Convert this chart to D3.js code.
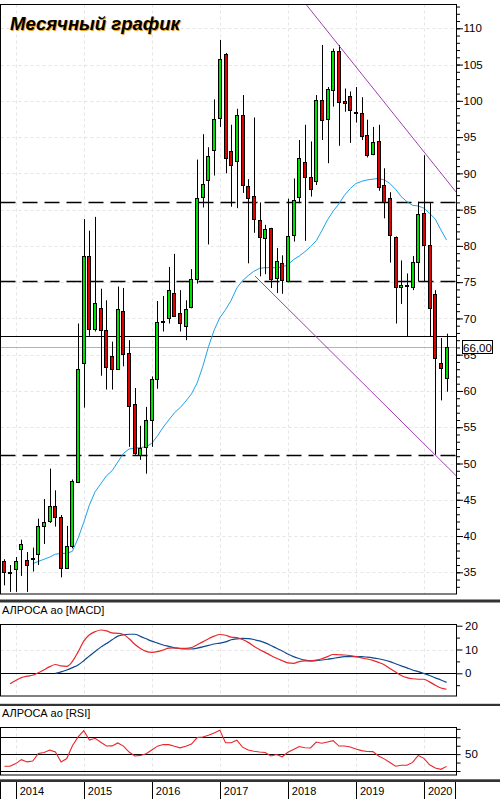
<!DOCTYPE html>
<html>
<head>
<meta charset="utf-8">
<script src="https://cdn.jsdelivr.net/npm/d3@7"></script>
<style>
  html, body { margin: 0; padding: 0; background: #fff; }
  svg { display: block; font-family: "Liberation Sans", Arial, sans-serif; }
</style>
</head>
<body>
<div class="chart"></div>
<script>
var svgWidth = 500;
var svgHeight = 799;

// monthly bars, Nov 2013 .. May 2020
var months = d3.timeMonth.range(new Date(2013, 10, 1), new Date(2020, 5, 1));
var yearLabels = ["2014", "2015", "2016", "2017", "2018", "2019", "2020"];

var openPrices = [36.5, 35.0, 35.4, 38.2, 36.7, 36.8, 37.6, 41.4, 42.0, 44.1,
  42.6, 35.6, 38.6, 47.4, 63.9, 78.6, 68.5, 71.5, 68.4, 64.8,
  63.0, 71.0, 65.3, 58.2, 51.2, 52.3, 56.1, 61.7, 69.5, 70.0,
  73.5, 70.7, 69.0, 71.5, 75.5, 86.8, 89.1, 93.2, 97.5, 106.5,
  93.1, 91.8, 98.1, 88.3, 86.9, 83.6, 81.1, 82.4, 75.5, 77.6,
  75.2, 81.5, 86.7, 91.5, 89.5, 88.9, 100.1, 97.4, 101.5, 106.9,
  100.0, 100.6, 98.5, 98.3, 95.3, 92.7, 94.5, 88.4, 86.6, 81.2,
  74.3, 74.6, 74.4, 77.8, 84.6, 80.1, 73.4, 63.9, 61.7];
var highPrices = [36.8, 36.0, 37.1, 39.5, 37.8, 38.4, 42.4, 45.1, 49.3, 46.3,
  42.9, 41.4, 47.8, 69.3, 83.7, 82.1, 84.0, 74.1, 72.5, 66.8,
  74.4, 74.2, 67.0, 60.4, 55.2, 57.8, 62.0, 72.4, 73.1, 77.1,
  78.9, 73.9, 72.5, 76.8, 91.9, 95.4, 93.6, 100.2, 108.4, 106.6,
  96.7, 98.9, 100.8, 89.2, 97.7, 86.0, 82.9, 82.5, 79.7, 78.7,
  86.5, 89.3, 94.6, 96.7, 94.4, 100.8, 107.7, 101.9, 107.2, 107.7,
  101.7, 101.3, 101.9, 100.5, 97.4, 96.4, 96.7, 90.7, 87.4, 81.3,
  78.0, 76.2, 78.6, 86.1, 92.5, 85.9, 73.9, 67.3, 67.9];
var lowPrices = [33.2, 32.3, 32.3, 34.5, 32.3, 35.1, 36.0, 38.9, 41.8, 41.3,
  34.3, 35.5, 38.3, 47.3, 57.7, 67.6, 68.2, 62.1, 60.2, 60.2,
  62.9, 63.4, 52.3, 51.2, 50.5, 48.6, 52.3, 60.3, 68.2, 69.3,
  70.2, 68.2, 67.0, 71.4, 74.8, 85.3, 80.2, 89.7, 96.4, 90.0,
  85.4, 85.2, 87.3, 77.6, 81.8, 75.8, 76.1, 74.2, 73.5, 73.4,
  75.0, 80.6, 85.9, 80.7, 86.8, 88.4, 94.6, 91.4, 99.2, 93.8,
  98.5, 94.2, 97.0, 94.6, 92.2, 92.5, 87.6, 83.8, 77.7, 69.3,
  72.0, 67.5, 73.9, 75.1, 75.1, 67.5, 51.2, 58.7, 59.9];
var closePrices = [35.0, 35.1, 36.5, 38.9, 36.0, 37.0, 41.4, 41.9, 44.1, 42.6,
  35.6, 38.6, 47.6, 63.0, 78.6, 68.5, 72.1, 68.4, 63.3, 63.0,
  71.3, 65.1, 58.0, 51.4, 52.2, 56.0, 61.7, 69.5, 69.7, 73.9,
  70.3, 69.3, 71.3, 75.4, 86.6, 88.6, 92.4, 97.5, 105.7, 92.1,
  91.2, 98.1, 88.4, 86.6, 83.7, 81.2, 82.3, 75.3, 77.9, 75.2,
  81.4, 86.3, 92.1, 89.5, 87.8, 100.1, 97.4, 101.6, 106.9, 99.9,
  99.7, 98.7, 98.3, 95.1, 92.5, 94.3, 88.2, 86.0, 81.5, 74.3,
  74.6, 74.5, 77.8, 84.4, 80.2, 71.4, 64.6, 63.2, 66.0];

// moving average (blue)
var maValues = [null, null, null, null, null, 36.2, 36.5, 36.8, 37.1, 37.5,
  37.6, 37.6, 37.9, 39.7, 41.9, 44.3, 46.1, 47.2, 48.3, 49.0,
  50.2, 51.4, 52.0, 52.1, 52.2, 52.3, 52.8, 53.8, 55.0, 56.0,
  57.0, 57.7, 58.6, 59.6, 61.1, 63.4, 66.1, 68.4, 70.1, 71.2,
  72.5, 74.2, 75.2, 75.9, 76.5, 76.9, 77.0, 77.0, 77.0, 77.1,
  77.4, 78.1, 78.6, 79.2, 79.9, 80.7, 82.1, 83.6, 84.8, 85.8,
  87.0, 87.9, 88.6, 88.9, 89.1, 89.2, 89.3, 89.1, 88.6, 87.8,
  86.8, 86.1, 85.6, 85.5, 85.2, 84.5, 83.7, 82.2, 80.8];

var macdValues = [null, -4.4, -3.0, -1.8, -1.2, -0.8, 0.2, 1.5, 2.8, 3.7,
  3.1, 2.9, 5.0, 9.0, 13.5, 16.2, 17.5, 18.2, 17.8, 17.0,
  16.8, 16.3, 14.5, 12.2, 10.4, 9.2, 8.8, 9.1, 9.8, 10.6,
  10.7, 10.5, 10.5, 10.8, 12.0, 13.2, 14.5, 15.6, 16.3, 16.0,
  15.2, 15.0, 14.2, 13.0, 11.4, 10.0, 8.8, 7.5, 6.3, 5.3,
  4.4, 4.2, 4.9, 5.2, 5.2, 5.5, 6.1, 7.0, 7.9, 7.8,
  7.7, 7.4, 7.0, 6.5, 6.0, 5.4, 4.6, 3.6, 2.0, 0.5,
  -0.9, -1.8, -2.3, -2.5, -2.5, -3.6, -5.0, -6.2, -6.7];
var signalValues = [null, null, null, null, null, null, null, null, null, 0.0,
  0.6, 1.4, 2.4, 3.5, 5.3, 7.3, 9.2, 11.0, 12.5, 14.1,
  15.6, 16.2, 16.4, 16.4, 15.5, 14.5, 13.5, 12.7, 11.9, 11.3,
  10.7, 10.4, 10.2, 10.2, 10.6, 11.1, 11.7, 12.3, 12.7, 13.2,
  14.1, 14.5, 14.7, 14.6, 14.2, 13.6, 12.8, 11.7, 10.5, 9.4,
  8.1, 7.0, 6.2, 5.5, 5.2, 5.3, 5.6, 5.9, 6.3, 6.7,
  7.0, 7.0, 7.0, 7.0, 6.8, 6.5, 6.1, 5.6, 4.9, 4.0,
  3.1, 2.3, 1.4, 0.7, -0.1, -0.9, -1.9, -2.8, -3.8];

var rsiValues = [35.6, 35.6, 38.8, 43.5, 40.8, 41.8, 50.8, 52.0, 54.8, 52.6,
  40.8, 44.8, 60.0, 70.5, 77.9, 66.8, 68.8, 64.2, 59.6, 59.8,
  63.3, 59.5, 52.5, 47.8, 48.5, 50.5, 55.0, 59.5, 61.4, 61.3,
  59.3, 57.5, 59.3, 62.0, 69.6, 70.4, 72.5, 75.2, 78.5, 63.5,
  63.5, 66.5, 58.3, 55.0, 53.5, 52.6, 52.0, 47.9, 49.6, 46.9,
  52.3, 55.6, 59.0, 57.6, 57.3, 64.4, 62.9, 64.5, 66.0, 59.6,
  59.6, 58.5, 56.0, 54.2, 53.1, 53.0, 47.8, 44.4, 40.0, 35.6,
  36.8, 36.8, 40.2, 48.4, 45.0, 37.4, 33.6, 32.0, 35.5];

// drawn levels and trend lines: [month index, price]
var dashedLevels = [86.0, 75.15, 51.2];
var solidLevel = 67.55;
var lastPrice = 66.00;
var upperTrend = [[53.3, 113.2], [79.7, 87.4]];
var lowerTrend = [[44.2, 75.85], [79.7, 48.3]];

var priceTicks = [35, 40, 45, 50, 55, 60, 65, 70, 75, 80, 85, 90, 95, 100, 105, 110];
var macdTicks = [0, 10, 20];
var macdMinorTicks = [-5, 5, 15];
var rsiLevels = [30, 50, 70];
var rsiTicks = [30, 40, 50, 60, 70, 80];
var rsiTickLabels = [50];

// layout
var plotLeft = 0.5;
var plotRight = 456.5;
var mainTop = 4.5, mainBottom = 594;
var macdTop = 624.5, macdBottom = 696;
var rsiTop = 727.5, rsiBottom = 775;

var svg = d3.select(".chart")
  .append("svg")
  .attr("width", svgWidth)
  .attr("height", svgHeight);

var xLinearScale = d3.scaleLinear()
  .domain([0, months.length - 1])
  .range([4.4, 446.6]);
var yPrice = d3.scaleLinear().domain([35, 110]).range([572.3, 28.3]);
var yMacd = d3.scaleLinear().domain([0, 20]).range([673.3, 625.7]);
var yRsi = d3.scaleLinear().domain([30, 70]).range([771, 737.3]);

var yearIdx = [];
months.forEach(function (m, i) { if (m.getMonth() === 0) yearIdx.push(i); });

function px(v) { return Math.round(v) + 0.5; }

// panel with clip and vertical year grid
function makePanel(name, top, bottom) {
  svg.append("clipPath").attr("id", "clip-" + name)
    .append("rect")
    .attr("x", plotLeft).attr("y", top)
    .attr("width", plotRight - plotLeft).attr("height", bottom - top);
  var g = svg.append("g");
  g.selectAll(".vgrid").data(yearIdx).enter().append("line")
    .attr("x1", d => px(xLinearScale(d))).attr("x2", d => px(xLinearScale(d)))
    .attr("y1", top).attr("y2", bottom)
    .attr("stroke", "#e4e4e4").attr("stroke-dasharray", "3,3");
  return g;
}

function frame(top, bottom) {
  svg.append("rect")
    .attr("x", plotLeft).attr("y", top)
    .attr("width", plotRight - plotLeft).attr("height", bottom - top)
    .attr("fill", "none").attr("stroke", "#000");
}

function separator(y, h) {
  svg.append("rect").attr("x", 0).attr("y", y).attr("width", svgWidth).attr("height", h)
    .attr("fill", "#333");
}

// ---------- main price panel ----------
var main = makePanel("main", mainTop, mainBottom);

main.selectAll(".hgrid").data(priceTicks).enter().append("line")
  .attr("x1", plotLeft).attr("x2", plotRight)
  .attr("y1", d => px(yPrice(d))).attr("y2", d => px(yPrice(d)))
  .attr("stroke", "#e4e4e4").attr("stroke-dasharray", "3,3");

var mainClip = main.append("g").attr("clip-path", "url(#clip-main)");

// current price (grey) and black solid level
mainClip.append("line")
  .attr("x1", plotLeft).attr("x2", plotRight)
  .attr("y1", px(yPrice(lastPrice))).attr("y2", px(yPrice(lastPrice)))
  .attr("stroke", "#b4b4b4");
mainClip.append("line")
  .attr("x1", plotLeft).attr("x2", plotRight)
  .attr("y1", px(yPrice(solidLevel))).attr("y2", px(yPrice(solidLevel)))
  .attr("stroke", "#000");

// dashed support/resistance levels
mainClip.selectAll(".level").data(dashedLevels).enter().append("line")
  .attr("x1", plotLeft).attr("x2", plotRight)
  .attr("y1", d => px(yPrice(d))).attr("y2", d => px(yPrice(d)))
  .attr("stroke", "#000").attr("stroke-width", 1.3)
  .attr("stroke-dasharray", "15,7");

// moving average
var maLine = d3.line()
  .defined(d => d != null)
  .x((d, i) => xLinearScale(i))
  .y(d => yPrice(d));
mainClip.append("path")
  .datum(maValues)
  .attr("d", maLine)
  .attr("fill", "none").attr("stroke", "#1ea2e8").attr("stroke-width", 1);

// candles
var candles = months.map(function (m, i) {
  return { i: i, o: openPrices[i], h: highPrices[i], l: lowPrices[i], c: closePrices[i] };
});

mainClip.selectAll(".wick").data(candles).enter().append("line")
  .attr("x1", d => Math.round(xLinearScale(d.i)) + 0.5)
  .attr("x2", d => Math.round(xLinearScale(d.i)) + 0.5)
  .attr("y1", d => yPrice(d.h)).attr("y2", d => yPrice(d.l))
  .attr("stroke", "#000").attr("stroke-width", 1);

mainClip.selectAll(".body").data(candles).enter().append("rect")
  .attr("x", d => Math.round(xLinearScale(d.i)) - 1.5)
  .attr("width", 3)
  .attr("y", d => Math.round(yPrice(Math.max(d.o, d.c))) + 0.5)
  .attr("height", d => Math.max(1, Math.round(Math.abs(yPrice(d.o) - yPrice(d.c)))))
  .attr("fill", d => d.c >= d.o ? "#00e000" : "#e00000")
  .attr("stroke", "#000").attr("stroke-width", 1);

// trend lines
var trendLine = d3.line().x(d => xLinearScale(d[0])).y(d => yPrice(d[1]));
[upperTrend, lowerTrend].forEach(function (t) {
  mainClip.append("path")
    .datum(t)
    .attr("d", trendLine)
    .attr("fill", "none").attr("stroke", "#a040b0").attr("stroke-width", 1);
});

frame(mainTop, mainBottom);

// price axis
var priceAxis = svg.append("g")
  .attr("transform", `translate(${plotRight}, 0)`)
  .call(d3.axisRight(yPrice).tickValues(priceTicks).tickSize(6.5).tickPadding(0.5));
svg.append("g")
  .attr("transform", `translate(${plotRight}, 0)`)
  .call(d3.axisRight(yPrice).tickValues(d3.range(33, 114)).tickSize(3.5).tickFormat(""))
  .select(".domain").remove();
priceAxis.select(".domain").remove();
priceAxis.selectAll("text")
  .attr("font-family", "Liberation Sans, Arial, sans-serif")
  .attr("font-size", "11.5px").attr("fill", "#000");
svg.append("line")
  .attr("x1", plotRight).attr("x2", plotRight)
  .attr("y1", mainTop).attr("y2", mainBottom)
  .attr("stroke", "#000");

// last price box (covers most of the "65" label, as in the source)
var lastY = yPrice(lastPrice);
svg.append("rect")
  .attr("x", 462.5).attr("y", Math.round(lastY) - 6.5)
  .attr("width", 30).attr("height", 13)
  .attr("fill", "#fff").attr("stroke", "#000");
svg.append("text")
  .attr("x", 477.5).attr("y", lastY + 4.3)
  .attr("text-anchor", "middle")
  .attr("font-size", "11.5px")
  .text("66,00");

// title with orange shadow
var titleGroup = svg.append("g").attr("font-weight", "bold").attr("font-style", "italic")
  .attr("font-size", "18.5px");
titleGroup.append("text").attr("x", 11).attr("y", 31).attr("fill", "#f0a020").text("Месячный график");
titleGroup.append("text").attr("x", 10).attr("y", 30).attr("fill", "#000").text("Месячный график");

separator(599.5, 3);

// ---------- MACD panel ----------
svg.append("text").attr("x", 2).attr("y", 614).attr("font-size", "11px")
  .text("АЛРОСА ао [MACD]");

var macdPanel = makePanel("macd", macdTop, macdBottom);
macdPanel.append("line")
  .attr("x1", plotLeft).attr("x2", plotRight)
  .attr("y1", px(yMacd(10))).attr("y2", px(yMacd(10)))
  .attr("stroke", "#e4e4e4").attr("stroke-dasharray", "3,3");
macdPanel.append("line")
  .attr("x1", plotLeft).attr("x2", plotRight)
  .attr("y1", px(yMacd(0))).attr("y2", px(yMacd(0)))
  .attr("stroke", "#000");

var macdClip = macdPanel.append("g").attr("clip-path", "url(#clip-macd)");
var macdLine = d3.line()
  .defined(d => d != null)
  .x((d, i) => xLinearScale(i))
  .y(d => yMacd(d))
  .curve(d3.curveMonotoneX);
macdClip.append("path").datum(signalValues).attr("d", macdLine)
  .attr("fill", "none").attr("stroke", "#0e4a8e").attr("stroke-width", 1.2);
macdClip.append("path").datum(macdValues).attr("d", macdLine)
  .attr("fill", "none").attr("stroke", "#e8262b").attr("stroke-width", 1.2);

frame(macdTop, macdBottom);

var macdAxis = svg.append("g")
  .attr("transform", `translate(${plotRight}, 0)`)
  .call(d3.axisRight(yMacd).tickValues(macdTicks).tickSize(6).tickPadding(2.5));
svg.append("g")
  .attr("transform", `translate(${plotRight}, 0)`)
  .call(d3.axisRight(yMacd).tickValues(macdMinorTicks).tickSize(3.5).tickFormat(""))
  .select(".domain").remove();
macdAxis.select(".domain").remove();
macdAxis.selectAll("text")
  .attr("font-family", "Liberation Sans, Arial, sans-serif")
  .attr("font-size", "11.5px").attr("fill", "#000");
svg.append("line")
  .attr("x1", plotRight).attr("x2", plotRight)
  .attr("y1", macdTop).attr("y2", macdBottom)
  .attr("stroke", "#000");

separator(703.8, 2.2);

// ---------- RSI panel ----------
svg.append("text").attr("x", 2).attr("y", 716.5).attr("font-size", "11px")
  .text("АЛРОСА ао [RSI]");

var rsiPanel = makePanel("rsi", rsiTop, rsiBottom);
rsiPanel.selectAll(".rsilevel").data(rsiLevels).enter().append("line")
  .attr("x1", plotLeft).attr("x2", plotRight)
  .attr("y1", d => px(yRsi(d))).attr("y2", d => px(yRsi(d)))
  .attr("stroke", "#000");

var rsiLine = d3.line()
  .x((d, i) => xLinearScale(i))
  .y(d => yRsi(d));
rsiPanel.append("g").attr("clip-path", "url(#clip-rsi)")
  .append("path").datum(rsiValues).attr("d", rsiLine)
  .attr("fill", "none").attr("stroke", "#e8262b").attr("stroke-width", 1.1);

frame(rsiTop, rsiBottom);

var rsiAxis = svg.append("g")
  .attr("transform", `translate(${plotRight}, 0)`)
  .call(d3.axisRight(yRsi).tickValues(rsiTicks).tickSize(4)
    .tickPadding(4.5)
    .tickFormat(d => rsiTickLabels.indexOf(d) >= 0 ? d : ""));
rsiAxis.select(".domain").remove();
rsiAxis.selectAll("text")
  .attr("font-family", "Liberation Sans, Arial, sans-serif")
  .attr("font-size", "11.5px").attr("fill", "#000");
svg.append("line")
  .attr("x1", plotRight).attr("x2", plotRight)
  .attr("y1", rsiTop).attr("y2", rsiBottom)
  .attr("stroke", "#000");

separator(779.3, 2.7);

// ---------- time axis ----------
var timeAxis = svg.append("g");
var dividers = [0].concat(yearIdx.map(d => xLinearScale(d))).concat([455]);
timeAxis.selectAll(".div").data(dividers).enter().append("line")
  .attr("x1", d => px(d)).attr("x2", d => px(d))
  .attr("y1", 782).attr("y2", svgHeight)
  .attr("stroke", "#000");
timeAxis.selectAll(".year").data(yearIdx).enter().append("text")
  .attr("x", d => xLinearScale(d) + 4)
  .attr("y", 795)
  .attr("font-size", "11px")
  .text((d, i) => yearLabels[i]);
</script>
</body>
</html>
